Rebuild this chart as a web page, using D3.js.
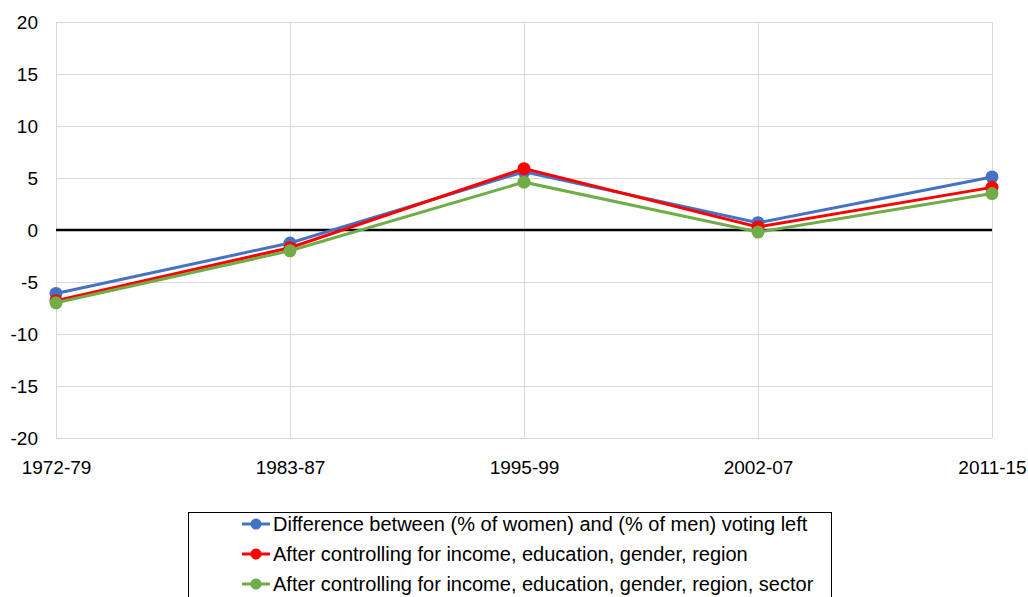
<!DOCTYPE html>
<html><head><meta charset="utf-8">
<script src="https://cdn.jsdelivr.net/npm/d3@7/dist/d3.min.js"></script>
<style>body{margin:0;background:#fff;}svg{display:block;font-family:"Liberation Sans",Arial,sans-serif;}</style>
</head><body><svg id="c" width="1028" height="597"></svg>
<script>
const categories = ["1972-79","1983-87","1995-99","2002-07","2011-15"];
const seriesNames = ["Difference between (% of women) and (% of men) voting left","After controlling for income, education, gender, region","After controlling for income, education, gender, region, sector"];
const blueVals = [-6.1,-1.25,5.6,0.7,5.1];
const redVals = [-6.8,-1.7,5.9,0.3,4.1];
const greenVals = [-7.0,-2.0,4.6,-0.2,3.5];
const yTicks = [-20,-15,-10,-5,0,5,10,15,20];
const colors = ["#4472C4","#FF0000","#70AD47"];

const svg = d3.select("#c");
const x = d3.scalePoint().domain(categories).range([56,992]);
const y = d3.scaleLinear().domain([-20,20]).range([438,22]);

// grid
svg.append("g").selectAll("line").data(yTicks).join("line")
  .attr("x1",56).attr("x2",992).attr("y1",d=>y(d)+0.5).attr("y2",d=>y(d)+0.5)
  .attr("stroke","#d9d9d9").attr("stroke-width",1);
svg.append("g").selectAll("line").data(categories).join("line")
  .attr("x1",d=>x(d)+0.5).attr("x2",d=>x(d)+0.5).attr("y1",y(20)).attr("y2",y(-20))
  .attr("stroke","#d9d9d9").attr("stroke-width",1);

// y axis labels
const ya = svg.append("g").attr("transform","translate(56,0)")
  .call(d3.axisLeft(y).tickValues(yTicks).tickFormat(d=>String(d)).tickSize(0).tickPadding(18));
ya.select(".domain").remove();
ya.selectAll("text").attr("font-size",19).attr("fill","#000").attr("font-family","Liberation Sans, Arial, sans-serif");

// x axis labels
const xa = svg.append("g").attr("transform",`translate(0,${y(-20)})`).call(d3.axisBottom(x).tickSize(0).tickPadding(23));
xa.select(".domain").remove();
xa.selectAll("text").attr("font-size",19).attr("fill","#000").attr("font-family","Liberation Sans, Arial, sans-serif");

// zero line
svg.append("line").attr("x1",56).attr("x2",992).attr("y1",y(0)).attr("y2",y(0)).attr("stroke","#000").attr("stroke-width",2.5);

const series = [blueVals, redVals, greenVals];
const line = d3.line().x((d,i)=>x(categories[i])).y(d=>y(d));
series.forEach((vals,k)=>{
  svg.append("path").datum(vals).attr("d",line).attr("fill","none").attr("stroke",colors[k]).attr("stroke-width",3);
  svg.append("g").selectAll("circle").data(vals).join("circle")
    .attr("cx",(d,i)=>x(categories[i])).attr("cy",d=>y(d)).attr("r",6.5).attr("fill",colors[k]);
});

// legend
svg.append("rect").attr("x",188.5).attr("y",512.5).attr("width",643).attr("height",100).attr("fill","#fff").attr("stroke","#000").attr("stroke-width",1);
const lg = svg.append("g");
seriesNames.forEach((n,k)=>{
  const ly = 524 + k*30;
  lg.append("line").attr("x1",242).attr("x2",270).attr("y1",ly).attr("y2",ly).attr("stroke",colors[k]).attr("stroke-width",3);
  lg.append("circle").attr("cx",256).attr("cy",ly).attr("r",5.5).attr("fill",colors[k]);
  lg.append("text").attr("x",273).attr("y",ly).attr("dy","0.35em").attr("font-size",20).text(n);
});
</script></body></html>
